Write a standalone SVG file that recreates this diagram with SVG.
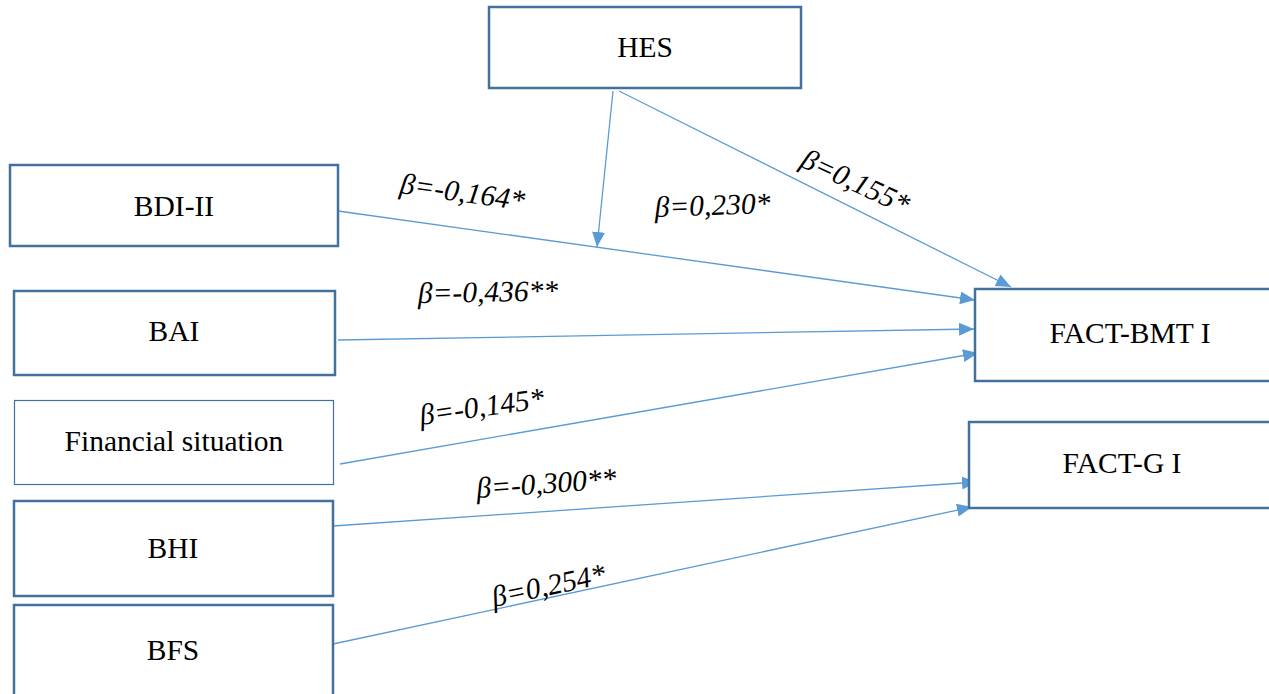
<svg xmlns="http://www.w3.org/2000/svg" width="1269" height="694" viewBox="0 0 1269 694">
<style>
.box{fill:#fff;stroke:#41719C;stroke-width:2.5}
.thin{fill:#fff;stroke:#41719C;stroke-width:1.2}
.lbl{font-family:"Liberation Serif","Times New Roman",serif;font-size:29.5px;fill:#000;text-anchor:middle}
.b{font-family:"Liberation Serif","Times New Roman",serif;font-size:29.5px;font-style:italic;fill:#000}
.c{stroke:#5B9BD5;stroke-width:1.3;fill:none;marker-end:url(#ar)}
</style>
<defs>
<marker id="ar" markerUnits="userSpaceOnUse" markerWidth="16" markerHeight="14" refX="15" refY="6.5" orient="auto">
<path d="M0,0 L15,6.5 L0,13 z" fill="#5B9BD5"/>
</marker>
</defs>
<rect width="1269" height="694" fill="#fff"/>
<g id="connectors">
<line class="c" x1="613" y1="91" x2="597" y2="247"/>
<line class="c" x1="619" y1="91" x2="1011" y2="287"/>
<line class="c" x1="338" y1="211" x2="975" y2="300"/>
<line class="c" x1="338" y1="340" x2="974" y2="329"/>
<line class="c" x1="340" y1="464" x2="978" y2="353"/>
<line class="c" x1="333" y1="526" x2="977" y2="482"/>
<line class="c" x1="333" y1="644" x2="972" y2="507"/>
</g>
<g id="labels">
<text class="b" transform="translate(399,193) rotate(8)">β=-0,164*</text>
<text class="b" transform="translate(655,217) rotate(-2)">β=0,230*</text>
<text class="b" transform="translate(799,166) rotate(25)">β=0,155*</text>
<text class="b" transform="translate(418,303) rotate(-1)">β=-0,436**</text>
<text class="b" transform="translate(421,425) rotate(-8)">β=-0,145*</text>
<text class="b" transform="translate(477,498) rotate(-4)">β=-0,300**</text>
<text class="b" transform="translate(494,607) rotate(-12)">β=0,254*</text>
</g>
<g id="HES"><rect class="box" x="489" y="7" width="312" height="81"/><text class="lbl" x="645" y="57">HES</text></g>
<g id="BDI-II"><rect class="box" x="10" y="165" width="328" height="81"/><text class="lbl" x="174" y="216">BDI-II</text></g>
<g id="BAI"><rect class="box" x="14" y="291" width="321" height="84"/><text class="lbl" x="174" y="341">BAI</text></g>
<g id="Financial"><rect class="thin" x="14.5" y="400.5" width="319" height="84"/><text class="lbl" x="174" y="451">Financial situation</text></g>
<g id="BHI"><rect class="box" x="14" y="501" width="319" height="95"/><text class="lbl" x="173" y="558">BHI</text></g>
<g id="BFS"><rect class="box" x="14" y="605" width="319" height="100"/><text class="lbl" x="173" y="660">BFS</text></g>
<g id="FACT-BMT"><rect class="box" x="975" y="289" width="310" height="92"/><text class="lbl" x="1130" y="343">FACT-BMT I</text></g>
<g id="FACT-G"><rect class="box" x="969" y="422" width="316" height="86"/><text class="lbl" x="1122" y="473">FACT-G I</text></g>
</svg>
